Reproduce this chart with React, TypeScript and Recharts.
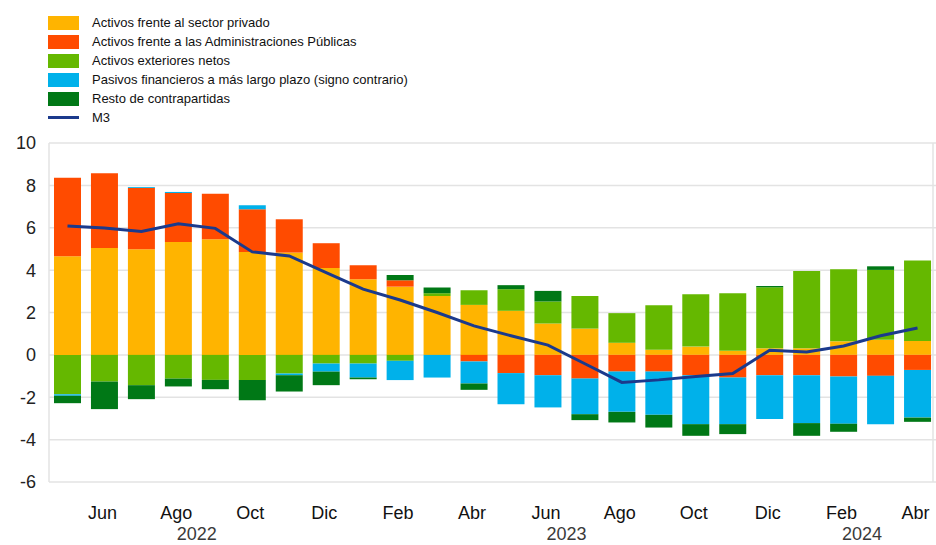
import { Bar, CartesianGrid, ComposedChart, Line, XAxis, YAxis } from "recharts";

// mayo 2022 – abril 2024
const months = [
  "2022-05", "2022-06", "2022-07", "2022-08", "2022-09", "2022-10", "2022-11", "2022-12",
  "2023-01", "2023-02", "2023-03", "2023-04", "2023-05", "2023-06", "2023-07", "2023-08",
  "2023-09", "2023-10", "2023-11", "2023-12", "2024-01", "2024-02", "2024-03", "2024-04",
];
const monthNames = ["Ene", "Feb", "Mar", "Abr", "May", "Jun", "Jul", "Ago", "Sep", "Oct", "Nov", "Dic"];
const tickMonths = months.filter((_, i) => i % 2 === 1);
// tick after which the year label sits (between this month and the next)
const yearTicks: Record<string, string> = { "2022-08": "2022", "2023-06": "2023", "2024-02": "2024" };

const privateSector = [4.65, 5.05, 4.98, 5.33, 5.46, 4.86, 4.83, 4.1, 3.57, 3.22, 2.78, 2.36, 2.08, 1.48, 1.24, 0.57, 0.24, 0.39, 0.19, 0.31, 0.31, 0.64, 0.71, 0.66];
const government = [3.71, 3.52, 2.9, 2.31, 2.15, 2.01, 1.57, 1.17, 0.66, 0.3, 0, -0.31, -0.86, -0.96, -1.12, -0.79, -0.79, -0.96, -1.07, -0.96, -0.96, -1.02, -0.99, -0.71];
const external = [-1.86, -1.26, -1.43, -1.12, -1.18, -1.18, -0.88, -0.41, -0.41, -0.28, 0.13, 0.69, 1.02, 1.04, 1.54, 1.4, 2.1, 2.47, 2.72, 2.88, 3.65, 3.4, 3.3, 3.79];
const longTerm = [-0.07, 0, 0.04, 0.05, 0, 0.19, -0.08, -0.38, -0.66, -0.91, -1.07, -1.04, -1.47, -1.52, -1.68, -1.9, -2.04, -2.31, -2.2, -2.07, -2.26, -2.23, -2.28, -2.25];
const other = [-0.35, -1.3, -0.66, -0.37, -0.44, -0.96, -0.77, -0.64, -0.08, 0.25, 0.27, -0.3, 0.19, 0.5, -0.28, -0.5, -0.6, -0.55, -0.47, 0.06, -0.6, -0.38, 0.17, -0.2];
const m3 = [6.08, 5.99, 5.82, 6.19, 5.97, 4.86, 4.67, 3.88, 3.1, 2.59, 2.0, 1.37, 0.9, 0.46, -0.42, -1.3, -1.18, -1.02, -0.88, 0.22, 0.14, 0.42, 0.9, 1.27];
const yTicks = [-6, -4, -2, 0, 2, 4, 6, 8, 10];

const series = [
  { key: "priv", name: "Activos frente al sector privado", color: "#FFB400" },
  { key: "gov", name: "Activos frente a las Administraciones Públicas", color: "#FF4B00" },
  { key: "ext", name: "Activos exteriores netos", color: "#65B800" },
  { key: "ltl", name: "Pasivos financieros a más largo plazo (signo contrario)", color: "#00B1EA" },
  { key: "rest", name: "Resto de contrapartidas", color: "#007816" },
];
const lineColor = "#1B3A8C";

const data = months.map((m, i) => ({
  month: m,
  priv: privateSector[i],
  gov: government[i],
  ext: external[i],
  ltl: longTerm[i],
  rest: other[i],
  m3: m3[i],
}));

const W = 936;
const H = 545;
const LEFT = 49;
const band = (W - LEFT) / months.length;
const font = "'Liberation Sans', Arial, sans-serif";

function MonthTick({ x, y, payload }: any) {
  const key: string = payload.value;
  const label = monthNames[Number(key.slice(5)) - 1];
  const year = yearTicks[key];
  return (
    <g>
      <text x={x - 2} y={y + 29} textAnchor="middle" fontSize={18} fill="#111" fontFamily={font}>
        {label}
      </text>
      {year && (
        <text x={x + band / 2} y={y + 50} textAnchor="middle" fontSize={18} fill="#3a3a3a" fontFamily={font}>
          {year}
        </text>
      )}
    </g>
  );
}

function LegendBox() {
  return (
    <div style={{ position: "absolute", left: 48, top: 13, fontFamily: font, fontSize: 13, color: "#111" }}>
      {series.map((s) => (
        <div key={s.key} style={{ display: "flex", alignItems: "center", height: 19 }}>
          <span style={{ width: 31, height: 14, background: s.color, marginRight: 13 }} />
          <span>{s.name}</span>
        </div>
      ))}
      <div style={{ display: "flex", alignItems: "center", height: 19 }}>
        <span style={{ width: 31, height: 3, background: lineColor, marginRight: 13 }} />
        <span>M3</span>
      </div>
    </div>
  );
}

export default function App() {
  return (
    <div style={{ position: "relative", width: W, height: H, background: "#fff" }}>
      <style>{`body{margin:0;background:#fff}`}</style>
      <LegendBox />
      <ComposedChart
        width={W}
        height={H}
        data={data}
        stackOffset="sign"
        barSize={27}
        margin={{ top: 143, right: 0, bottom: 0, left: 0 }}
      >
        <CartesianGrid
          stroke="#e3e3e3"
          strokeWidth={1.5}
          verticalCoordinatesGenerator={({ offset }: any) => [offset.left, offset.left + offset.width - 3]}
        />
        <XAxis
          dataKey="month"
          ticks={tickMonths}
          interval={0}
          height={63}
          axisLine={false}
          tickLine={false}
          tick={<MonthTick />}
        />
        <YAxis
          domain={[-6, 10]}
          ticks={yTicks}
          width={LEFT}
          axisLine={false}
          tickLine={false}
          tickMargin={7}
          tick={{ fontSize: 18, fill: "#222", fontFamily: font }}
        />
        {series.map((s) => (
          <Bar
            key={s.key}
            dataKey={s.key}
            name={s.name}
            stackId="a"
            fill={s.color}
            isAnimationActive={false}
          />
        ))}
        <Line
          type="linear"
          dataKey="m3"
          name="M3"
          stroke={lineColor}
          strokeWidth={3}
          dot={false}
          isAnimationActive={false}
        />
      </ComposedChart>
    </div>
  );
}
